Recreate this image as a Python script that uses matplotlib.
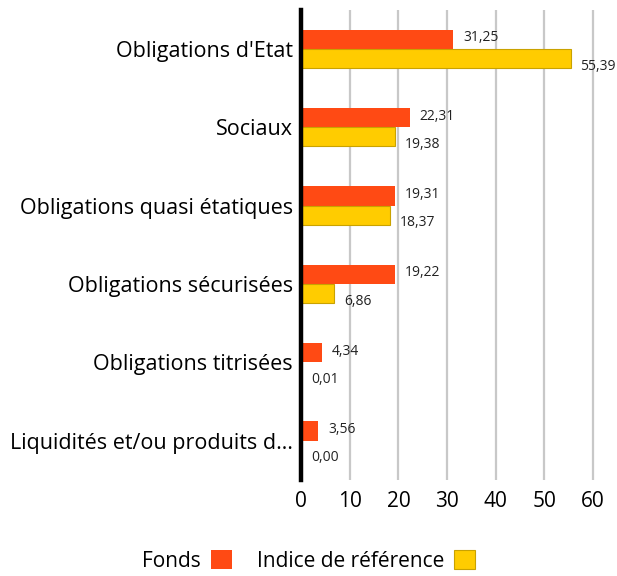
import matplotlib
matplotlib.use("Agg")
import matplotlib.pyplot as plt
import numpy as np

plt.rcParams['font.family'] = ['Open Sans', 'DejaVu Sans']

categories = ["Obligations d'Etat", "Sociaux", "Obligations quasi étatiques",
              "Obligations sécurisées", "Obligations titrisées",
              "Liquidités et/ou produits d…"]
fonds = [31.25, 22.31, 19.31, 19.22, 4.34, 3.56]
indice = [55.39, 19.38, 18.37, 6.86, 0.01, 0.00]
series_names = ["Fonds", "Indice de référence"]

red = "#FF4A14"
yellow = "#FFCC00"

fig = plt.figure(figsize=(6.17, 5.76), dpi=100)
ax = fig.add_axes([0.488, 0.167, 0.489, 0.816])

y = np.arange(len(categories))
h = 0.245
ax.barh(y - h / 2, fonds, height=h, color=red, label=series_names[0], zorder=3)
ax.barh(y + h / 2, indice, height=h, color=yellow, edgecolor="#C9A200",
        linewidth=0.8, label=series_names[1], zorder=3)

def fmt(v):
    return "{:.2f}".format(v).replace(".", ",")

for yi, v in zip(y, fonds):
    ax.annotate(fmt(v), (v, yi - h / 2), xytext=(7, 1), textcoords="offset points",
                va="center", ha="left", fontsize=10, color="#222222")
for yi, v in zip(y, indice):
    ax.annotate(fmt(v), (v, yi + h / 2), xytext=(7, -5.5), textcoords="offset points",
                va="center", ha="left", fontsize=10, color="#222222")

ax.set_ylim(len(categories) - 0.5, -0.5)
ax.set_xlim(0, 62)
ax.set_xticks(range(0, 61, 10))
ax.set_yticks(y)
ax.set_yticklabels(categories, fontsize=15.5)
ax.tick_params(axis="x", labelsize=15, length=0, pad=8)
ax.tick_params(axis="y", length=0, pad=6)
ax.grid(axis="x", color="#C8C8C8", linewidth=1.6, zorder=0)
for s in ["top", "right", "bottom"]:
    ax.spines[s].set_visible(False)
ax.spines["left"].set_linewidth(3.2)
ax.spines["left"].set_color("black")
ax.spines["left"].set_zorder(4)

fig.legend(loc="lower center", bbox_to_anchor=(0.5, -0.025), ncol=2, frameon=False,
           markerfirst=False, fontsize=15, handlelength=1.0, handleheight=1.0,
           columnspacing=1.2, handletextpad=0.5)

fig.savefig("out.png", dpi=100)
